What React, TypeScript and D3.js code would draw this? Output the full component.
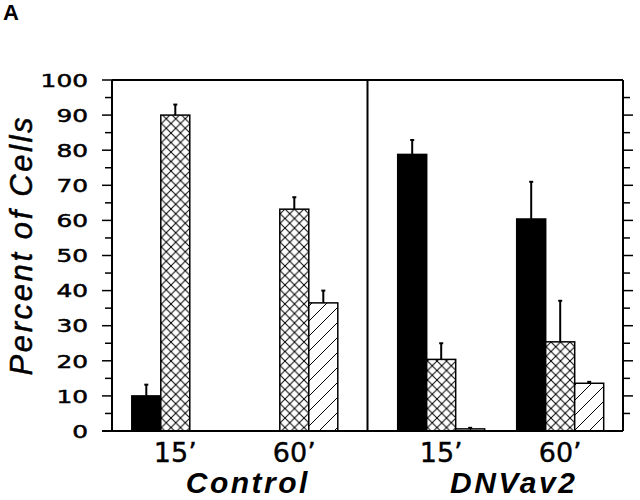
import React from "react";
import * as d3 from "d3";

const panels = ["Control", "DNVav2"];
const times = ["15’", "60’"];
const seriesNames = ["black", "crosshatch", "hatch"];
// values[time][series] per panel
const controlValues = [
  [10, 90, 0],
  [0, 63.2, 36.5],
];
const controlErrors = [
  [3.2, 3.0, 0],
  [0, 3.4, 3.5],
];
const dnvValues = [
  [78.8, 20.4, 0.6],
  [60.4, 25.4, 13.6],
];
const dnvErrors = [
  [4.1, 4.6, 0.3],
  [10.6, 11.7, 0.4],
];
const yTicks = [0, 10, 20, 30, 40, 50, 60, 70, 80, 90, 100];
const yMinorTicks = [5, 15, 25, 35, 45, 55, 65, 75, 85, 95];
const rightTicks = [5, 10, 15, 20, 25, 30, 35, 40, 45, 50, 55, 60, 65, 70, 75, 80, 85, 90, 95];

const W = 640;
const H = 500;
const left = 112;
const right = 623;
const top = 80;
const bottom = 431;
const panelAlign = [0.4, 0.61];
const fontDigits = "'DejaVu Sans', sans-serif";
const fontSans = "'Liberation Sans', Arial, Helvetica, sans-serif";

export default function App() {
  const y = d3.scaleLinear().domain([0, 100]).range([bottom, top]);
  const xPanel = d3.scaleBand<string>().domain(panels).range([left, right]).paddingInner(0).paddingOuter(0);
  const allValues = [controlValues, dnvValues];
  const allErrors = [controlErrors, dnvErrors];

  const bars: React.ReactNode[] = [];
  const errs: React.ReactNode[] = [];
  const timeLabels: React.ReactNode[] = [];
  const panelLabels: React.ReactNode[] = [];

  panels.forEach((p, pi) => {
    const p0 = xPanel(p)!;
    const xTime = d3
      .scaleBand<string>()
      .domain(times)
      .range([p0, p0 + xPanel.bandwidth()])
      .paddingInner(0.269)
      .paddingOuter(0.208)
      .align(panelAlign[pi]);
    let centerSum = 0;
    times.forEach((t, ti) => {
      const g0 = xTime(t)!;
      const xs = d3.scaleBand<string>().domain(seriesNames).range([g0, g0 + xTime.bandwidth()]).padding(0);
      const cx = g0 + xTime.bandwidth() / 2;
      centerSum += cx;
      timeLabels.push(
        <text
          key={`t${pi}${ti}`}
          x={cx}
          y={462}
          textAnchor="middle"
          fontFamily={fontDigits}
          fontSize={27}
          fill="#000"
          stroke="#000"
          strokeWidth={0.4}
        >
          {t}
        </text>
      );
      seriesNames.forEach((s, si) => {
        const v = allValues[pi][ti][si];
        const e = allErrors[pi][ti][si];
        if (v <= 0) return;
        const bx = xs(s)!;
        const bw = xs.bandwidth();
        const fill = s === "black" ? "#000" : s === "crosshatch" ? "url(#cross)" : "url(#hatch)";
        bars.push(
          <rect
            key={`b${pi}${ti}${si}`}
            x={bx}
            y={y(v)}
            width={bw}
            height={y(0) - y(v)}
            fill={fill}
            stroke="#000"
            strokeWidth={1.5}
          />
        );
        const ex = bx + bw / 2;
        errs.push(
          <g key={`e${pi}${ti}${si}`} stroke="#000" strokeWidth={2}>
            <line x1={ex} x2={ex} y1={y(v)} y2={y(v + e)} />
            <line x1={ex - 2} x2={ex + 2} y1={y(v + e)} y2={y(v + e)} />
          </g>
        );
      });
    });
    panelLabels.push(
      <text
        key={`p${pi}`}
        x={centerSum / times.length + 13}
        y={493}
        textAnchor="middle"
        fontFamily={fontSans}
        fontSize={30}
        fontWeight="bold"
        fontStyle="italic"
        letterSpacing={2.5}
        fill="#000"
      >
        {p}
      </text>
    );
  });

  const divider = xPanel(panels[1])!;

  return (
    <svg width={W} height={H} style={{ position: "absolute", left: 0, top: 0, background: "#fff" }}>
      <defs>
        <pattern id="cross" patternUnits="userSpaceOnUse" width={9.5} height={9.5}>
          <rect width={9.5} height={9.5} fill="#fff" />
          <path d="M0,0 L9.5,9.5 M9.5,0 L0,9.5" stroke="#000" strokeWidth={1} />
        </pattern>
        <pattern id="hatch" patternUnits="userSpaceOnUse" width={15} height={15}>
          <rect width={15} height={15} fill="#fff" />
          <path d="M0,15 L15,0 M-3.75,3.75 L3.75,-3.75 M11.25,18.75 L18.75,11.25" stroke="#000" strokeWidth={1} />
        </pattern>
      </defs>
      <rect width={W} height={H} fill="#fff" />
      <text x={3} y={20} fontFamily={fontSans} fontWeight="bold" fontSize={22} fill="#000">
        A
      </text>

      {bars}
      {errs}

      {/* frame */}
      <g stroke="#000" strokeWidth={2} fill="none">
        <line x1={left} x2={left} y1={top} y2={bottom} />
        <line x1={right} x2={right} y1={top} y2={bottom} />
        <line x1={left - 10} x2={right} y1={bottom} y2={bottom} />
        <line x1={left} x2={right} y1={top} y2={top} />
        <line x1={divider} x2={divider} y1={top} y2={bottom} />
      </g>

      {/* ticks */}
      <g stroke="#000" strokeWidth={1.5}>
        {yTicks.map((t) => (
          <line key={`lt${t}`} x1={left - 10} x2={left} y1={y(t)} y2={y(t)} />
        ))}
        {yMinorTicks.map((t) => (
          <line key={`lm${t}`} x1={left - 7} x2={left} y1={y(t)} y2={y(t)} />
        ))}
        {rightTicks.map((t) => (
          <line key={`rt${t}`} x1={right} x2={right + (t % 10 === 0 ? 10 : 7)} y1={y(t)} y2={y(t)} />
        ))}
      </g>

      {yTicks.map((t) => {
        const s = String(t);
        return (
          <text
            key={`yl${t}`}
            x={88}
            y={y(t) + 6.7}
            textAnchor="end"
            fontFamily={fontDigits}
            fontSize={18.5}
            textLength={s.length * 15.8}
            lengthAdjust="spacingAndGlyphs"
            fill="#000"
            stroke="#000"
            strokeWidth={0.5}
          >
            {s}
          </text>
        );
      })}

      <text
        transform={`translate(32, ${(top + bottom) / 2 - 9}) rotate(-90)`}
        textAnchor="middle"
        fontFamily={fontSans}
        fontStyle="italic"
        fontSize={31}
        textLength={258}
        lengthAdjust="spacing"
        fill="#000"
        stroke="#000"
        strokeWidth={0.5}
      >
        Percent of Cells
      </text>

      {timeLabels}
      {panelLabels}
    </svg>
  );
}
